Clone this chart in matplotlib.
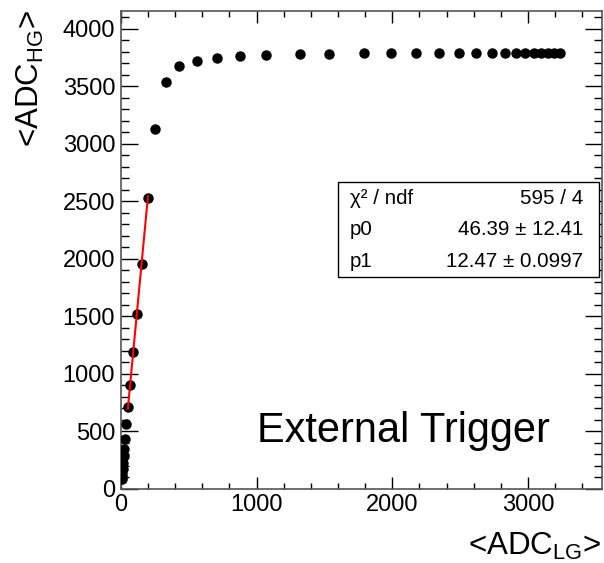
import numpy as np
import matplotlib
matplotlib.use("Agg")
import matplotlib.pyplot as plt
from matplotlib.ticker import MultipleLocator

plt.rcParams["font.family"] = ["Liberation Sans", "DejaVu Sans"]
plt.rcParams["mathtext.fontset"] = "custom"
plt.rcParams["mathtext.rm"] = "Liberation Sans"
plt.rcParams["mathtext.it"] = "Liberation Sans:italic"

# mean low-gain ADC vs mean high-gain ADC
adc_lg = [7, 9, 11, 14, 17, 22, 27, 34, 39, 53, 68.5, 91, 118, 153, 199,
          253, 331, 427, 560, 710, 879, 1071, 1321, 1533, 1788, 1987,
          2178, 2346, 2488, 2618, 2736, 2827, 2908, 2979, 3041, 3095,
          3147, 3193, 3237]
adc_hg = [80, 100, 125, 170, 220, 280, 345, 430, 560, 709, 900, 1184,
          1517, 1952, 2529, 3130, 3532, 3677, 3720, 3746, 3758, 3767,
          3775, 3775, 3784, 3784, 3784, 3784, 3784, 3784, 3784, 3784,
          3784, 3784, 3784, 3784, 3784, 3784, 3784]

# linear fit result shown in the stats box
p0, p0_err = 46.39, 12.41
p1, p1_err = 12.47, 0.0997
chi2_ndf = "595 / 4"
fit_range = [52, 200]

fig = plt.figure(figsize=(6.04, 5.63), dpi=100)
ax = fig.add_axes([0.2, 0.1323, 0.7967, 0.8477])

ax.plot(adc_lg, adc_hg, "o", color="black", markersize=6.5, zorder=3)
xf = np.array(fit_range, dtype=float)
ax.plot(xf, p0 + p1 * xf, color="red", lw=1.5, zorder=4)

ax.set_xlim(0, 3545)
ax.set_ylim(0, 4150)
ax.xaxis.set_major_locator(MultipleLocator(1000))
ax.xaxis.set_minor_locator(MultipleLocator(200))
ax.yaxis.set_major_locator(MultipleLocator(500))
ax.yaxis.set_minor_locator(MultipleLocator(100))

ax.tick_params(axis="both", which="both", direction="in", top=True, right=True,
               labelsize=17, color="black", width=1.0)
ax.tick_params(axis="x", which="major", length=8.7, pad=4)
ax.tick_params(axis="x", which="minor", length=4)
ax.tick_params(axis="y", which="major", length=12.3, pad=4)
ax.tick_params(axis="y", which="minor", length=6.1)
for s in ax.spines.values():
    s.set_color("#555555")
    s.set_linewidth(1.2)

fig.text(601 / 604, 1 - 555 / 563, r"<ADC$_{\mathrm{LG}}$>", ha="right",
         va="baseline", fontsize=22.5)
fig.text(30 / 604, 1 - 10 / 563, r"<ADC$_{\mathrm{HG}}$>", ha="center",
         va="top", rotation=90, fontsize=22.5)

fig.text(257 / 604, 1 - 442 / 563, "External Trigger", ha="left",
         va="baseline", fontsize=29.9)

# stats box
bx0, bx1 = 338 / 604, 599 / 604
by_top, by_bot = 1 - 182.5 / 563, 1 - 277 / 563
fig.patches.append(plt.Rectangle((bx0, by_bot), bx1 - bx0, by_top - by_bot,
                                 transform=fig.transFigure, fill=True,
                                 facecolor="white", edgecolor="black", lw=1.0,
                                 zorder=5))
rows = [("χ² / ndf", chi2_ndf),
        ("p0", f"{p0:.2f} ± {p0_err:.2f}"),
        ("p1", f"{p1:.2f} ± {p1_err:.4f}")]
row_h = (by_top - by_bot) / 3
for i, (name, val) in enumerate(rows):
    yc = by_top - (i + 0.5) * row_h
    fig.text(350 / 604, yc, name, ha="left", va="center", fontsize=14.8, zorder=6)
    fig.text(583 / 604, yc, val, ha="right", va="center", fontsize=14.8, zorder=6)

fig.savefig("out.png", dpi=100)
